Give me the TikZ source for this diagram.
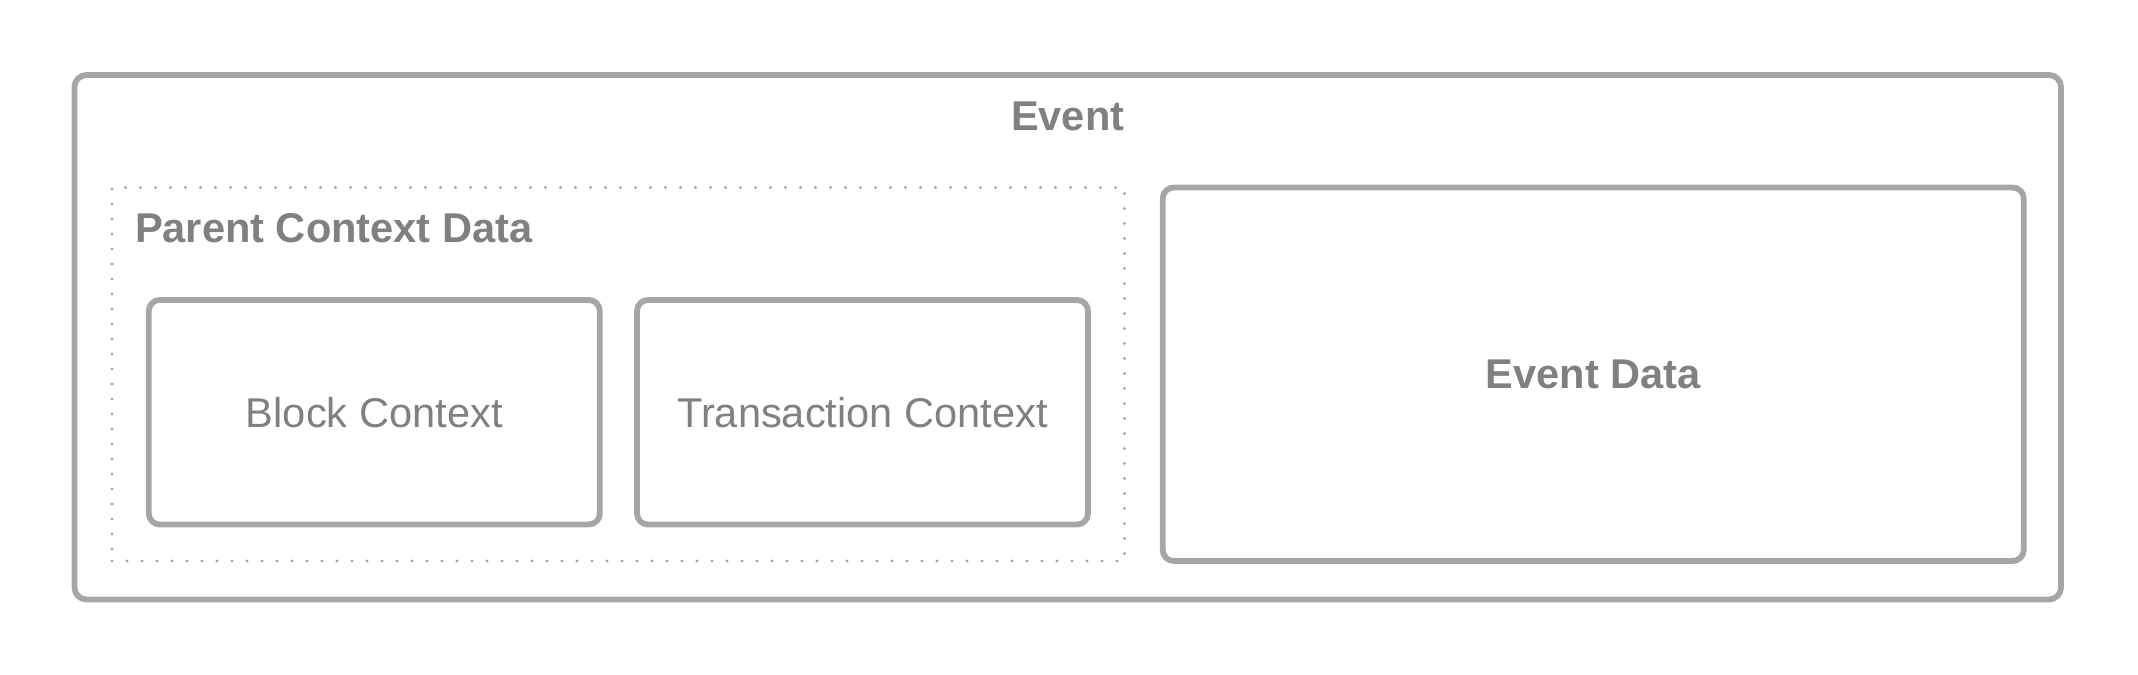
\documentclass[tikz,border=0pt]{standalone}
\usepackage{fontspec}
\setmainfont{Liberation Sans}
\definecolor{boxgray}{HTML}{A6A6A6}
\definecolor{textgray}{HTML}{808080}

\begin{document}
\begin{tikzpicture}[x=0.5pt, y=0.5pt,
	every node/.style={text=textgray, inner sep=0pt, outer sep=0pt, font=\fontsize{20.8}{24}\selectfont},
	frame/.style={draw=boxgray, line width=2.9pt, rounded corners=5.5pt},
	ctxbox/.style={frame, minimum width=225.5pt, minimum height=112.25pt},
	title/.style={font=\fontsize{20.8}{24}\selectfont\bfseries}]
	\useasboundingbox (0,0) rectangle (2138,675);
	% outer event box
	\node[frame, rounded corners=6pt, minimum width=993.25pt, minimum height=262.25pt] (event) at (1067.75,337.75) {};
	\node[title, anchor=base] (eventlbl) at (1067.75,544) {Event};
	% parent context (dotted)
	\node[draw=boxgray, line width=1.7pt, line cap=round, dash pattern=on 0pt off 7.5pt, minimum width=506.25pt, minimum height=186.75pt] (parent) at (618.25,300.75) {};
	\node[title, anchor=base west] (parentlbl) at (135,432) {Parent Context Data};
	\node[ctxbox] (block) at (374.3,262.75) {Block Context};
	\node[ctxbox] (tx) at (862.5,262.75) {Transaction Context};
	% event data
	\node[frame, title, minimum width=430.5pt, minimum height=186.75pt] (data) at (1593.2,300.75) {Event Data};
\end{tikzpicture}
\end{document}
